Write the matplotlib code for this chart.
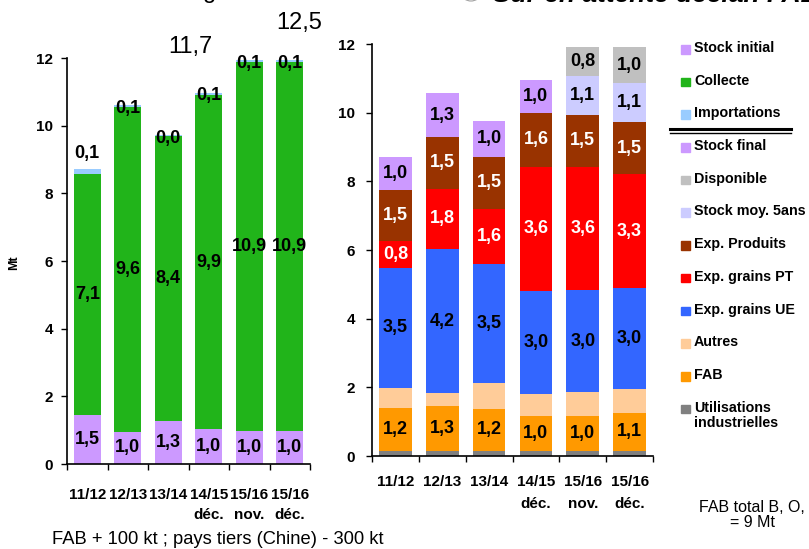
import matplotlib
matplotlib.use('Agg')
import matplotlib.pyplot as plt
from matplotlib.lines import Line2D
from matplotlib.patches import Rectangle, Ellipse
import numpy as np

plt.rcParams['font.family'] = ['Liberation Sans', 'DejaVu Sans']

# left chart: availability (Mt)
seasons = ['11/12', '12/13', '13/14', '14/15\ndéc.', '15/16\nnov.', '15/16\ndéc.']
stock_initial = [1.46, 0.96, 1.26, 1.02, 0.97, 0.97]
collecte = [7.12, 9.6, 8.44, 9.9, 10.9, 10.9]
importations = [0.14, 0.06, 0.03, 0.06, 0.08, 0.08]
totals_top = ['11,7', '12,5']

# right chart: uses (Mt)
industrielles = [0.16, 0.16, 0.16, 0.14, 0.16, 0.16]
fab = [1.24, 1.30, 1.20, 1.02, 1.0, 1.08]
autres = [0.58, 0.37, 0.76, 0.66, 0.69, 0.70]
exp_ue = [3.5, 4.2, 3.46, 2.98, 2.98, 2.96]
exp_pt = [0.79, 1.76, 1.62, 3.63, 3.59, 3.3]
exp_produits = [1.49, 1.49, 1.52, 1.56, 1.52, 1.54]
stock_final = [0.96, 1.28, 1.04, 0.96, 0, 0]
stock_moy = [0, 0, 0, 0, 1.14, 1.13]
disponible = [0, 0, 0, 0, 0.84, 1.03]

C_PURPLE = '#CC99FF'
C_GREEN = '#21B41A'
C_LBLUE = '#99CCFF'
C_SILVER = '#C0C0C0'
C_LAV = '#CCCCFF'
C_BROWN = '#993300'
C_RED = '#FF0000'
C_BLUE = '#3366FF'
C_PEACH = '#FFCC99'
C_ORANGE = '#FF9900'
C_GRAY = '#808080'

left_series = [
    ('Stock initial', stock_initial, C_PURPLE, 'k'),
    ('Collecte', collecte, C_GREEN, 'k'),
    ('Importations', importations, C_LBLUE, None),
]
right_series = [
    ('Utilisations\nindustrielles', industrielles, C_GRAY, None),
    ('FAB', fab, C_ORANGE, 'k'),
    ('Autres', autres, C_PEACH, None),
    ('Exp. grains UE', exp_ue, C_BLUE, 'k'),
    ('Exp. grains PT', exp_pt, C_RED, 'w'),
    ('Exp. Produits', exp_produits, C_BROWN, 'w'),
    ('Stock final', stock_final, C_PURPLE, 'k'),
    ('Stock moy. 5ans', stock_moy, C_LAV, 'k'),
    ('Disponible', disponible, C_SILVER, 'k'),
]
# order in which the right-hand series appear in the legend
right_legend_order = ['Stock final', 'Disponible', 'Stock moy. 5ans', 'Exp. Produits',
                      'Exp. grains PT', 'Exp. grains UE', 'Autres', 'FAB',
                      'Utilisations\nindustrielles']

W, H = 809, 549
fig = plt.figure(figsize=(W / 100, H / 100), dpi=100)

def px_axes(x0, x1, ytop, ybot):
    return fig.add_axes([x0 / W, 1 - ybot / H, (x1 - x0) / W, (ybot - ytop) / H])

def lab(v):
    return f'{v:.1f}'.replace('.', ',')

def style(ax, pad, ypad, lsp):
    x = np.arange(len(seasons))
    ax.set_xlim(-0.5, len(seasons) - 0.5)
    ax.set_ylim(0, 12)
    ax.set_yticks(range(0, 13, 2))
    ax.set_xticks(x)
    ax.set_xticklabels(seasons, fontsize=11, fontweight='bold', linespacing=lsp)
    ax.set_xticks(np.arange(len(seasons) + 1) - 0.5, minor=True)
    ax.tick_params(axis='x', which='major', length=0, pad=pad)
    ax.tick_params(axis='x', which='minor', length=4, width=1, direction='out')
    ax.tick_params(axis='y', length=4, width=1, labelsize=11, pad=ypad)
    for t in ax.get_yticklabels():
        t.set_fontweight('bold')
    for s in ['top', 'right']:
        ax.spines[s].set_visible(False)
    for s in ['left', 'bottom']:
        ax.spines[s].set_linewidth(1.2)

# ---- left chart
ax1 = px_axes(67, 310, 58, 464)
x = np.arange(len(seasons))
bottom = np.zeros(len(seasons))
for name, vals, col, tcol in left_series:
    vals = np.array(vals)
    ax1.bar(x, vals, 0.67, bottom=bottom, color=col, zorder=2)
    for i, v in enumerate(vals):
        if name == 'Importations':
            top = bottom[i] + v
            y = top + 0.45 if i == 0 else top - 0.1
            ax1.text(i, y, lab(v), ha='center', va='center', fontsize=13,
                     fontweight='bold', color='k', zorder=3)
        else:
            ax1.text(i, bottom[i] + v / 2, lab(v), ha='center', va='center',
                     fontsize=13, fontweight='bold', color=tcol, zorder=3)
    bottom += vals
style(ax1, 17, 6, 1.6)
fig.text(14 / W, 1 - 263 / H, 'Mt', rotation=90, ha='center', va='center',
         fontsize=9, fontweight='bold')

fig.text(190 / W, 1 - 47 / H, totals_top[0], ha='center', va='center', fontsize=17)
fig.text(299 / W, 1 - 23 / H, totals_top[1], ha='center', va='center', fontsize=17)

# ---- right chart
ax2 = px_axes(372, 653, 44, 456)
bottom = np.zeros(len(seasons))
for name, vals, col, tcol in right_series:
    vals = np.array(vals)
    ax2.bar(x, vals, 0.7, bottom=bottom, color=col, zorder=2)
    if tcol is not None:
        for i, v in enumerate(vals):
            if v > 0:
                ax2.text(i, bottom[i] + v / 2, lab(v), ha='center', va='center',
                         fontsize=13, fontweight='bold', color=tcol, zorder=3)
    bottom += vals
style(ax2, 14, 8, 1.7)

# ---- legend (drawn by hand to get the double separator line)
right_colors = {n: c for n, _, c, _ in right_series}
legend_rows = [(n, c) for n, _, c, _ in left_series] + \
    [(n, right_colors[n]) for n in right_legend_order]
y0, step = 49, 32.7
for k, (name, col) in enumerate(legend_rows):
    yc = y0 + k * step
    fig.add_artist(Rectangle((681 / W, 1 - (yc + 4.5) / H), 8.5 / W, 8.5 / H,
                             transform=fig.transFigure, color=col))
    fig.text(694 / W, 1 - (yc - 8) / H, name, ha='left', va='top',
             fontsize=10.3, fontweight='bold', linespacing=1.15)
fig.add_artist(Line2D([670 / W, 791 / W], [1 - 129 / H] * 2, color='k', lw=2.2,
                      transform=fig.transFigure))
fig.add_artist(Line2D([670 / W, 791 / W], [1 - 132.5 / H] * 2, color='k', lw=1,
                      transform=fig.transFigure))

# ---- notes and clipped titles
fig.text(52 / W, 1 - 540 / H, 'FAB + 100 kt ; pays tiers (Chine) - 300 kt',
         ha='left', va='center', fontsize=13.2)
fig.text(752 / W, 1 - 515 / H, 'FAB total B, O,\n= 9 Mt', ha='center', va='center',
         fontsize=11.5, linespacing=1.05)
fig.text(203 / W, 1 + 2 / H, 'g', ha='left', va='baseline', fontsize=17)
fig.add_artist(Ellipse((471 / W, 1 + 6 / H), 18 / W, 14 / H, transform=fig.transFigure,
                       fill=False, ec='#A0A0A0', lw=0.8))
fig.text(493 / W, 1 - 1.5 / H, 'Sur en attente déclar. FAB', ha='left', va='baseline',
         fontsize=19, fontweight='bold', style='italic')

plt.savefig('out.png', dpi=100)
